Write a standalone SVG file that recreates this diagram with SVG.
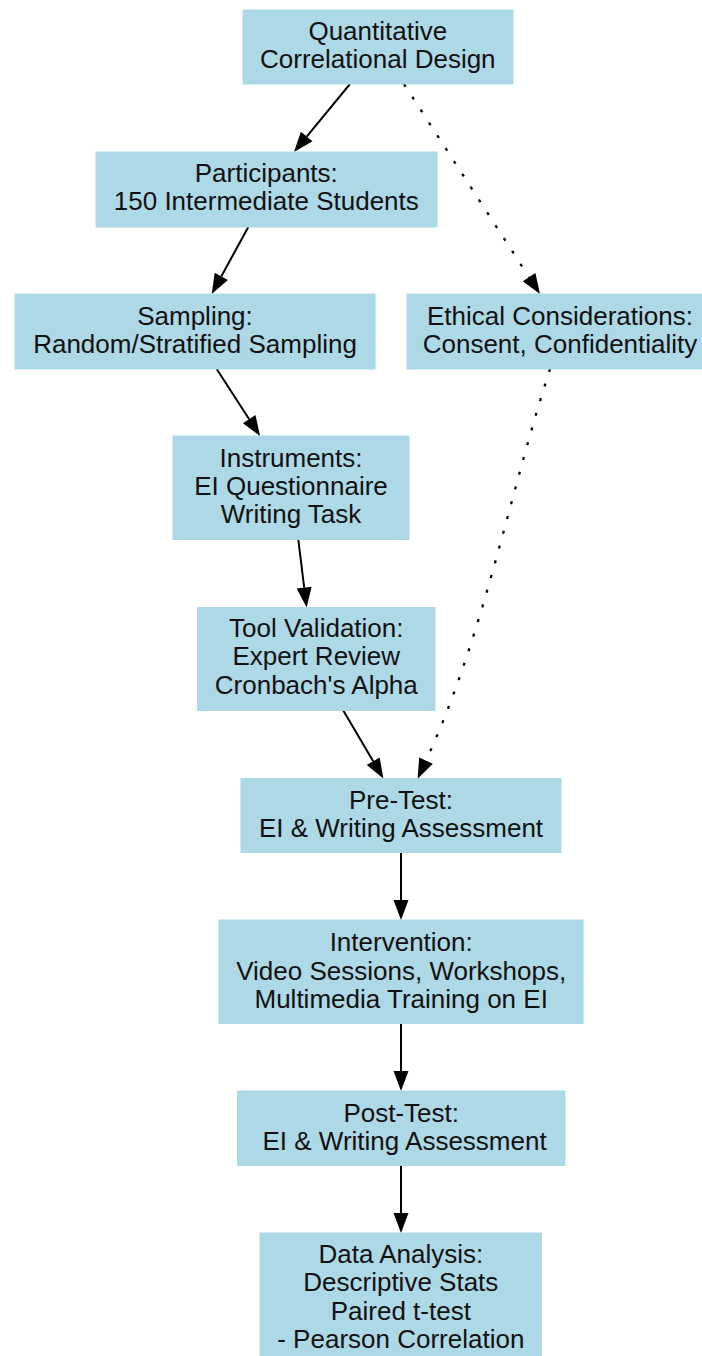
<svg xmlns="http://www.w3.org/2000/svg" width="702" height="1356" viewBox="0 0 702 1356">
<style>
.box{fill:#ADD8E6;stroke:#ADD8E6;stroke-width:1}
.t{font-family:"Liberation Sans",Arial,sans-serif;font-size:26px;fill:#111;text-anchor:middle}
.e{fill:none;stroke:#000;stroke-width:2}
.d{stroke-width:2.3;stroke-dasharray:3,12.3}
</style>
<defs>
<marker id="ah" markerUnits="userSpaceOnUse" markerWidth="20" markerHeight="16" refX="0" refY="7.5" orient="auto" overflow="visible">
<path d="M0,0 L20,7.5 L0,15 Z" fill="#000"/>
</marker>
</defs>
<rect width="702" height="1356" fill="#fff"/>
<g id="connectors">
<path class="e" d="M350,84 L306.7,136.6" marker-end="url(#ah)"/>
<path class="e d" d="M404,84 L529.1,277.2" marker-end="url(#ah)"/>
<path class="e" d="M248.3,227 L221.3,276.4" marker-end="url(#ah)"/>
<path class="e" d="M216.7,369 L249.2,419.2" marker-end="url(#ah)"/>
<path class="e" d="M298.3,539.5 L304.2,587.6" marker-end="url(#ah)"/>
<path class="e" d="M343.3,710.5 L373.2,761.2" marker-end="url(#ah)"/>
<path class="e d" d="M550,369 C508,499 484,635 426,760.6" marker-end="url(#ah)"/>
<path class="e" d="M401,852.5 L401,900" marker-end="url(#ah)"/>
<path class="e" d="M401,1023.5 L401,1071" marker-end="url(#ah)"/>
<path class="e" d="M401,1165.5 L401,1213" marker-end="url(#ah)"/>
</g>
<g id="n1"><rect class="box" x="243" y="10" width="270" height="74"/>
<text class="t" x="377.8" y="39.8">Quantitative</text><text class="t" x="377.8" y="68.2">Correlational Design</text></g>
<g id="n2"><rect class="box" x="96" y="152" width="341" height="75"/>
<text class="t" x="266.3" y="181.9">Participants:</text><text class="t" x="266.3" y="210.3">150 Intermediate Students</text></g>
<g id="n3"><rect class="box" x="15" y="294" width="360" height="75"/>
<text class="t" x="195" y="324.6">Sampling:</text><text class="t" x="195" y="353">Random/Stratified Sampling</text></g>
<g id="n4"><rect class="box" x="407" y="294" width="310" height="75"/>
<text class="t" x="560" y="324.6">Ethical Considerations:</text><text class="t" x="560" y="353">Consent, Confidentiality</text></g>
<g id="n5"><rect class="box" x="173" y="436" width="236" height="103.5"/>
<text class="t" x="291" y="466.5">Instruments:</text><text class="t" x="291" y="494.9">EI Questionnaire</text><text class="t" x="291" y="523.3">Writing Task</text></g>
<g id="n6"><rect class="box" x="197.5" y="607.5" width="237.5" height="103"/>
<text class="t" x="316.3" y="636.8">Tool Validation:</text><text class="t" x="316.3" y="665.2">Expert Review</text><text class="t" x="316.3" y="693.6">Cronbach's Alpha</text></g>
<g id="n7"><rect class="box" x="241" y="778.5" width="320" height="74"/>
<text class="t" x="401" y="808.5">Pre-Test:</text><text class="t" x="401" y="836.9">EI &amp; Writing Assessment</text></g>
<g id="n8"><rect class="box" x="219" y="920" width="364" height="103.5"/>
<text class="t" x="401.2" y="951.2">Intervention:</text><text class="t" x="401.2" y="979.6">Video Sessions, Workshops,</text><text class="t" x="401.2" y="1008">Multimedia Training on EI</text></g>
<g id="n9"><rect class="box" x="237.5" y="1091" width="327.5" height="74.5"/>
<text class="t" x="401.2" y="1121.5">Post-Test:</text><text class="t" x="404.6" y="1149.9">EI &amp; Writing Assessment</text></g>
<g id="n10"><rect class="box" x="260" y="1233" width="281.5" height="140"/>
<text class="t" x="400.8" y="1262.8">Data Analysis:</text><text class="t" x="400.8" y="1291.2">Descriptive Stats</text><text class="t" x="400.8" y="1319.6">Paired t-test</text><text class="t" x="400.8" y="1348">- Pearson Correlation</text></g>
</svg>
